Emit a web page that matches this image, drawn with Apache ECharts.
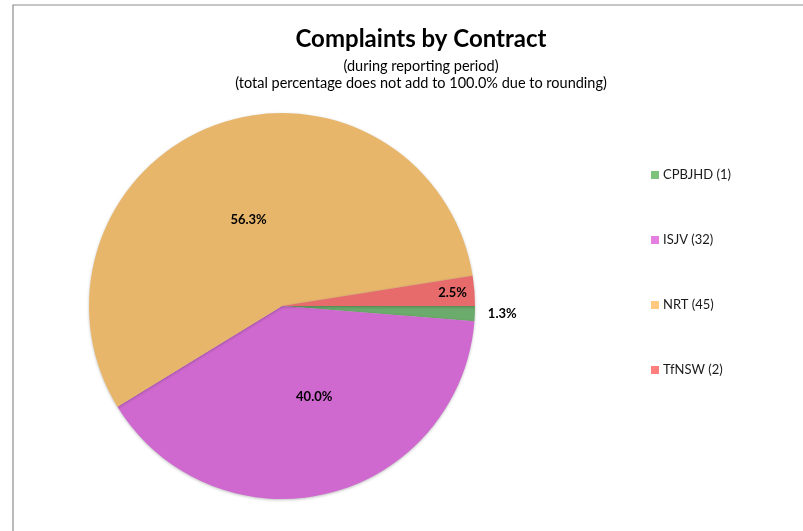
<!DOCTYPE html>
<html>
<head>
<meta charset="utf-8">
<script src="https://cdn.jsdelivr.net/npm/echarts@6/dist/echarts.min.js"></script>
<style>
  html, body { margin: 0; padding: 0; background: #ffffff; }
  #chart { width: 803px; height: 531px; }
</style>
</head>
<body>
<div id="chart"></div>
<script>
// Complaint counts per contract, in legend order
const contracts = ['CPBJHD', 'ISJV', 'NRT', 'TfNSW'];
const complaints = [1, 32, 45, 2];
const sliceColors = ['#6bab6b', '#cf69cf', '#e8b66b', '#e76b6b'];
const legendColors = ['#7dc47a', '#e37fe3', '#ffc97e', '#ff7f7f'];

const titleText = 'Complaints by Contract';
const subText = '(during reporting period)\n(total percentage does not add to 100.0% due to rounding)';

const FONT = 'Lato, "Open Sans", sans-serif';
const pieCenter = [282, 306];

const chart = echarts.init(document.getElementById('chart'), null, { renderer: 'canvas' });

const legendNames = contracts.map((c, i) => c + ' (' + complaints[i] + ')');
const total = complaints.reduce((a, b) => a + b, 0);

const data = contracts.map((c, i) => {
  const item = {
    name: legendNames[i],
    value: complaints[i],
    itemStyle: { color: sliceColors[i] }
  };
  // the thinnest slice carries its label just outside the rim
  if (i === 0) {
    item.label = { position: 'outside' };
    item.labelLine = { show: false, length: 4, length2: 4 };
  }
  return item;
});

// small nudges of the inside labels away from the exact mid-radius point
const labelNudge = { 1: [9, -6], 2: [1, 7] };

chart.setOption({
  backgroundColor: '#ffffff',
  animation: false,
  graphic: [{
    type: 'rect',
    shape: { x: 13, y: 5, width: 900, height: 700 },
    style: { fill: 'none', stroke: '#8c8c8c', lineWidth: 1.2 },
    silent: true
  }],
  title: {
    text: titleText,
    subtext: subText,
    left: 416,
    top: 22,
    textAlign: 'center',
    itemGap: 7,
    textStyle: { fontFamily: FONT, fontSize: 24, fontWeight: 'bold', color: '#000000' },
    subtextStyle: { fontFamily: FONT, fontSize: 14.5, color: '#000000', lineHeight: 17 }
  },
  legend: {
    orient: 'vertical',
    left: 646,
    top: 162,
    itemWidth: 8,
    itemHeight: 8,
    itemGap: 49,
    icon: 'rect',
    selectedMode: false,
    textStyle: { fontFamily: FONT, fontSize: 13, color: '#1a1a1a', lineHeight: 16, padding: [0, 0, 0, -1] },
    data: legendNames.map((n, i) => ({ name: n, itemStyle: { color: legendColors[i] } }))
  },
  series: [{
    type: 'pie',
    center: pieCenter,
    radius: 193,
    startAngle: 0,
    clockwise: true,
    avoidLabelOverlap: false,
    itemStyle: { borderWidth: 0, shadowBlur: 3, shadowColor: 'rgba(0,0,0,0.25)', shadowOffsetY: 1 },
    label: {
      show: true,
      position: 'inside',
      formatter: (p) => (p.value / total * 100).toFixed(1) + '%',
      fontFamily: FONT,
      fontSize: 13,
      fontWeight: 'bold',
      color: '#000000'
    },
    labelLine: { show: false },
    labelLayout: (p) => {
      if (p.dataIndex === 3) {
        // the narrow TfNSW label sits near the rim rather than at mid-radius
        const cx = p.labelRect.x + p.labelRect.width / 2;
        const cy = p.labelRect.y + p.labelRect.height / 2;
        const k = 0.72;
        return { dx: (cx - pieCenter[0]) * k, dy: (cy - pieCenter[1]) * k };
      }
      const n = labelNudge[p.dataIndex];
      return n ? { dx: n[0], dy: n[1] } : {};
    },
    data: data
  }]
});
</script>
</body>
</html>
